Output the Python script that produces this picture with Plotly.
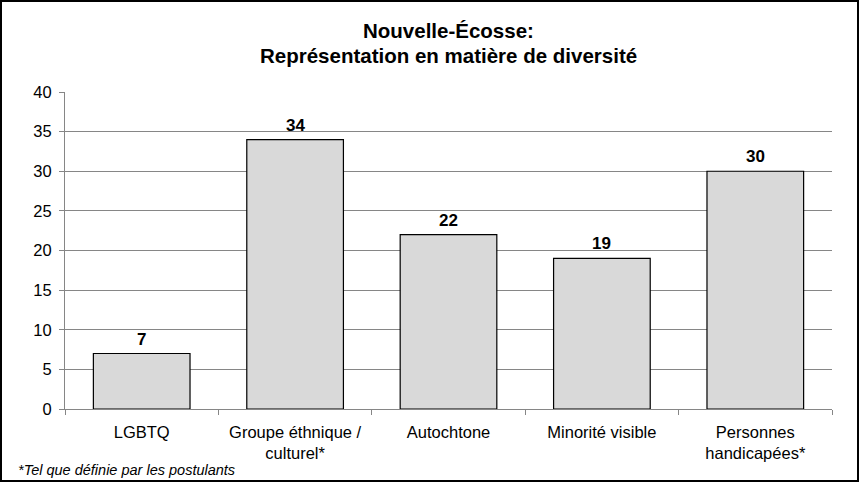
import plotly.graph_objects as go

categories = ["LGBTQ", "Groupe éthnique /<br>culturel*", "Autochtone", "Minorité visible", "Personnes<br>handicapées*"]
values = [7, 34, 22, 19, 30]
y_ticks = [0, 5, 10, 15, 20, 25, 30, 35, 40]
title_lines = ["Nouvelle-Écosse:", "Représentation en matière de diversité"]
footnote = "*Tel que définie par les postulants"

W, H = 859, 482
L, R, T, B = 65, 27, 92, 73
pw, ph = W - L - R, H - T - B
FONT = "Liberation Sans, Arial"

def py(pix):  # pixel y from top -> paper y
    return (H - B - pix) / ph

def px(pix):
    return (pix - L) / pw

fig = go.Figure()
fig.add_trace(go.Bar(
    x=categories, y=values,
    marker=dict(color="#D9D9D9", line=dict(color="black", width=1.2)),
    width=0.63,
    hoverinfo="skip",
))

for c, v in zip(categories, values):
    fig.add_annotation(x=c, y=v, text=f"<b>{v}</b>", showarrow=False, yanchor="bottom",
                       yshift=3, font=dict(size=17, family=FONT, color="black"))

fig.update_layout(
    width=W, height=H,
    margin=dict(l=L, r=R, t=T, b=B),
    paper_bgcolor="white", plot_bgcolor="white",
    font=dict(family=FONT, color="black"),
    showlegend=False,
)
for i, (line, ypix) in enumerate(zip(title_lines, [30, 55])):
    fig.add_annotation(text=f"<b>{line}</b>", xref="paper", yref="paper", x=px(448), y=py(ypix),
                       xanchor="center", yanchor="middle", showarrow=False,
                       font=dict(size=20.5, family=FONT, color="black"))

fig.update_yaxes(range=[0, 40], tickvals=y_ticks, showgrid=True, gridcolor="#868686", gridwidth=1,
                 showline=True, linecolor="#868686", linewidth=1, ticks="outside", ticklen=5,
                 tickcolor="#868686", tickfont=dict(size=16.5), zeroline=False, ticklabelstandoff=4)
fig.update_xaxes(showline=True, linecolor="#868686", linewidth=1, ticks="outside", ticklen=5,
                 tickcolor="#868686", tickson="boundaries", tickfont=dict(size=16.5), ticklabelstandoff=8)

# figure border
fig.add_shape(type="rect", xref="paper", yref="paper",
              x0=px(1), x1=px(W - 1), y0=py(H - 1), y1=py(1),
              line=dict(color="black", width=2), layer="above")

fig.add_annotation(text=f"<i>{footnote}</i>", xref="paper", yref="paper",
                   x=px(16), y=py(470), xanchor="left", yanchor="middle",
                   showarrow=False, font=dict(size=14.5, family=FONT, color="black"))

fig.write_html("out.html", config={"displayModeBar": False},
               post_script="document.body.style.margin='0';document.body.style.overflow='hidden';")
